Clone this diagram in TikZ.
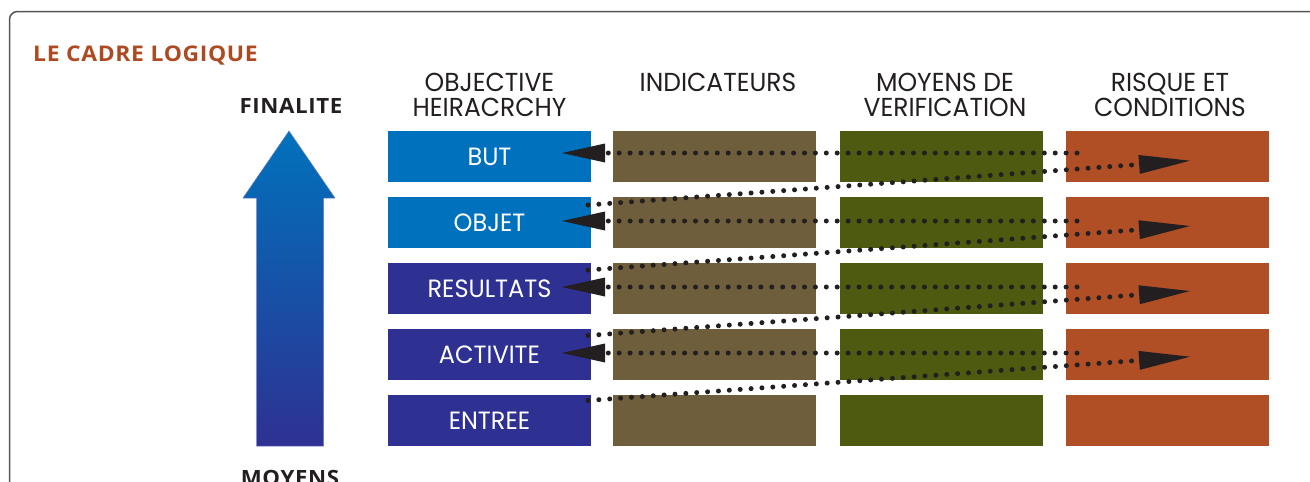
\documentclass[tikz,border=0pt]{standalone}
\usepackage{fontspec}
\usetikzlibrary{arrows.meta}
\setmainfont{Poppins}
\newfontfamily\cellfont[FakeStretch=0.96]{Poppins}
\newfontfamily\headfont[FakeStretch=1.06,LetterSpace=3]{Open Sans}
\definecolor{cblue}{HTML}{0071BC}
\definecolor{cindigo}{HTML}{2E3192}
\definecolor{cbrown}{HTML}{6E5E3B}
\definecolor{cgreen}{HTML}{4D5A0F}
\definecolor{crust}{HTML}{B04F26}
\definecolor{ctitle}{HTML}{AE4A22}
\definecolor{cdot}{HTML}{231F20}
\definecolor{cframe}{HTML}{555555}
\definecolor{cink}{HTML}{231F20}
\definecolor{arrtop}{HTML}{0072BC}
\definecolor{arrmid}{HTML}{0653A3}
\definecolor{arrbot}{HTML}{2E3192}
\definecolor{arredge}{HTML}{6C7BC4}
\begin{document}
\begin{tikzpicture}[x=1pt,y=-1pt,
  cell/.style={minimum width=203pt, minimum height=50.5pt, inner sep=0pt, outer sep=0pt,
    text=white, font=\cellfont\fontsize{25}{25}\selectfont, text height=17.5pt, text depth=0pt},
  colhead/.style={anchor=base, align=center, text=cink, font=\cellfont\fontsize{26}{25}\selectfont},
  sidelabel/.style={anchor=base, text=cink, font=\headfont\bfseries\fontsize{21}{21}\selectfont},
  dotline/.style={draw=cdot, line width=5pt, line cap=round, dash pattern=on 0pt off 10.9pt},
  lhead/.style={-{Triangle[length=43pt,width=19pt,line width=0pt]}},
  rhead/.style={-{Triangle[length=51pt,width=19pt,line width=0pt]}}]
\useasboundingbox (0,0) rectangle (1310,482);

% outer frame, open to the right and bottom
\draw[cframe, line width=1.5pt, rounded corners=8pt] (9.5,540) |- (1360,11.5);

% title
\node[anchor=base west, inner sep=0pt, text=ctitle, font=\headfont\bfseries\fontsize{21.6}{21.6}\selectfont] (title) at (33,61.3) {LE CADRE LOGIQUE};

% vertical scale arrow
\node[sidelabel] (fin) at (291,113.3) {FINALITE};
\node[sidelabel] (moy) at (290,485) {MOYENS};
\shadedraw[top color=arrtop, middle color=arrmid, bottom color=arrbot, draw=arredge, line width=0.5pt]
  (289,131) -- (335,198) -- (323.5,198) -- (323.5,446) -- (256.5,446) -- (256.5,198) -- (243,198) -- cycle;

% column headings
\node[colhead] (h1) at (489.5,116.7) {OBJECTIVE\\[0pt]HEIRACRCHY};
\node[colhead] (h2) at (718,91.5) {INDICATEURS};
\node[colhead] (h3) at (945,116.7) {MOYENS DE\\[0pt]VERIFICATION};
\node[colhead] (h4) at (1170,116.7) {RISQUE ET\\[0pt]CONDITIONS};

% grid of cells
\foreach \r/\lab/\col [count=\i] in {156.3/BUT/cblue, 222.3/OBJET/cblue, 288.3/RESULTATS/cindigo, 354.3/ACTIVITE/cindigo, 420.3/ENTREE/cindigo}{
  \node[cell, fill=\col]    (o\i) at (489.5,\r) {\lab};
  \node[cell, fill=cbrown]  (n\i) at (714.5,\r) {};
  \node[cell, fill=cgreen]  (v\i) at (941.5,\r) {};
  \node[cell, fill=crust]   (k\i) at (1167.5,\r) {};
}

% end points of the dotted links
\coordinate (hs1) at (1077,153);   \coordinate (he1) at (562,153);
\coordinate (hs2) at (1077,221);   \coordinate (he2) at (562,221);
\coordinate (hs3) at (1077,287);   \coordinate (he3) at (562,287);
\coordinate (hs4) at (1077,353);   \coordinate (he4) at (562,353);
\coordinate (ds1) at (588,205);    \coordinate (de1) at (1190,160.7);
\coordinate (ds2) at (588,270);    \coordinate (de2) at (1190,226);
\coordinate (ds3) at (588,335.5);  \coordinate (de3) at (1190,291);
\coordinate (ds4) at (588,400.5);  \coordinate (de4) at (1190,356.7);

% dotted links: back to each level, and up to the level above
\foreach \i in {1,...,4}{
  \draw[dotline, lhead] (hs\i) -- (he\i);
  \draw[dotline, rhead] (ds\i) -- (de\i);
}
\end{tikzpicture}
\end{document}
